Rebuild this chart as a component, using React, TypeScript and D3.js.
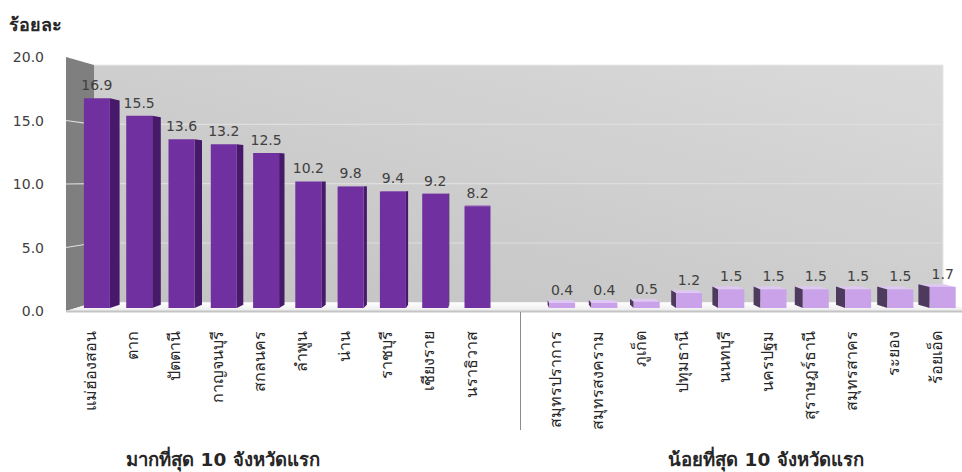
import React from 'react';
import * as d3 from 'd3';

// data
const topNames = ["แม่ฮ่องสอน", "ตาก", "ปัตตานี", "กาญจนบุรี", "สกลนคร", "ลำพูน", "น่าน", "ราชบุรี", "เชียงราย", "นราธิวาส"];
const topValues = [16.9, 15.5, 13.6, 13.2, 12.5, 10.2, 9.8, 9.4, 9.2, 8.2];
const bottomNames = ["สมุทรปราการ", "สมุทรสงคราม", "ภูเก็ต", "ปทุมธานี", "นนทบุรี", "นครปฐม", "สุราษฎร์ธานี", "สมุทรสาคร", "ระยอง", "ร้อยเอ็ด"];
const bottomValues = [0.4, 0.4, 0.5, 1.2, 1.5, 1.5, 1.5, 1.5, 1.5, 1.7];
const yTicks = [0, 5, 10, 15, 20];
const groupLabels = ["มากที่สุด 10 จังหวัดแรก", "น้อยที่สุด 10 จังหวัดแรก"];
const yTitle = "ร้อยละ";

const W = 962;
const H = 472;
const FONT = "Tahoma, 'DejaVu Sans', sans-serif";

// perspective: vanishing point, depth of wall and bars
const VP = [490, 180];
const TW = 0.066;
const TF = 0.023;
const TB = 0.048;
const proj = (x: number, y: number, t: number) => [x + (VP[0] - x) * t, y + (VP[1] - y) * t];
const pts = (arr: number[][]) => arr.map(p => p[0].toFixed(1) + "," + p[1].toFixed(1)).join(" ");

type Bar = { key: string; name: string; value: number; group: number };

export default function App() {
    const GAP = "__gap__";
    const bars: Bar[] = [
        ...topNames.map((n, i) => ({ key: "t" + i, name: n, value: topValues[i], group: 0 })),
        ...bottomNames.map((n, i) => ({ key: "b" + i, name: n, value: bottomValues[i], group: 1 })),
    ];
    const keys = [...bars.slice(0, 10).map(d => d.key), GAP, ...bars.slice(10).map(d => d.key)];

    const x = d3.scaleBand<string>().domain(keys).range([66, 975]).paddingInner(0.385).paddingOuter(0.1925);
    const y = d3.scaleLinear().domain([0, 20]).range([311, 57]);
    const bw = x.bandwidth();
    const [x0, x1] = x.range();
    const y0 = y(0);
    const yMax = y(20);

    const colors = [
        { front: "#7030a0", side: "#47196b", top: "#8a4fb8" },
        { front: "#c9a2ea", side: "#4d3a5c", top: "#dfc8f3" },
    ];

    // walls
    const leftWall = [proj(x0, yMax, 0), proj(x0, yMax, TW), proj(x0, y0, TW), proj(x0, y0, 0)];
    const backWall = [proj(x0, yMax, TW), proj(x1, yMax, TW), proj(x1, y0, TW), proj(x0, y0, TW)];
    const floor = [proj(x0, y0, 0), proj(x1, y0, 0), proj(x1, y0, TW), proj(x0, y0, TW)];
    const sepX = (x(GAP) as number) + bw / 2;

    return (
        <svg width={W} height={H} style={{ position: 'absolute', left: 0, top: 0, background: '#fff' }} fontFamily={FONT}>
            <defs>
                <linearGradient id="backGrad" x1="1" y1="0" x2="0" y2="1">
                    <stop offset="0" stopColor="#dadada" />
                    <stop offset="1" stopColor="#c2c2c2" />
                </linearGradient>
                <linearGradient id="floorGrad" x1="0" y1="0" x2="0" y2="1">
                    <stop offset="0" stopColor="#ffffff" />
                    <stop offset="1" stopColor="#ececec" />
                </linearGradient>
            </defs>

            {/* title */}
            <text x={9} y={31} fontSize={18} fontWeight="bold" fill="#262626">{yTitle}</text>

            {/* walls and floor */}
            <polygon points={pts(backWall)} fill="url(#backGrad)" />
            <polygon points={pts(leftWall)} fill="#7f7f7f" />
            <polygon points={pts(floor)} fill="url(#floorGrad)" />
            <line x1={proj(x0, y0, 0)[0]} y1={y0 + 0.5} x2={proj(x1, y0, 0)[0]} y2={y0 + 0.5} stroke="#c4c4c4" strokeWidth={2} />
            <polyline points={pts([proj(x0, yMax, TW), proj(x1, yMax, TW), proj(x1, y0, TW)])} fill="none" stroke="#e6e6e6" strokeWidth={1} />

            {/* gridlines */}
            {yTicks.filter(v => v > 0 && v < 20).map(v => (
                <polyline key={"g" + v} points={pts([proj(x0, y(v), 0), proj(x0, y(v), TW), proj(x1, y(v), TW)])}
                    fill="none" stroke="#dedede" strokeWidth={1.2} />
            ))}

            {/* y tick labels */}
            {yTicks.map(v => (
                <text key={"t" + v} x={44} y={y(v) + 5} fontSize={14} textAnchor="end" fill="#404040">{v.toFixed(1)}</text>
            ))}

            {/* bars */}
            {bars.map(d => {
                const xl = x(d.key) as number;
                const xr = xl + bw;
                const yt = y(d.value);
                const c = colors[d.group];
                const cx = xl + bw / 2;
                const sx = cx < VP[0] ? xr : xl;
                const side = [proj(sx, yt, TF), proj(sx, yt, TB), proj(sx, y0, TB), proj(sx, y0, TF)];
                const top = [proj(xl, yt, TF), proj(xr, yt, TF), proj(xr, yt, TB), proj(xl, yt, TB)];
                const front = [proj(xl, yt, TF), proj(xr, yt, TF), proj(xr, y0, TF), proj(xl, y0, TF)];
                return (
                    <g key={d.key}>
                        {yt > VP[1] && <polygon points={pts(top)} fill={c.top} />}
                        <polygon points={pts(side)} fill={c.side} />
                        <polygon points={pts(front)} fill={c.front} />
                    </g>
                );
            })}

            {/* value labels */}
            {bars.map(d => {
                const xl = x(d.key) as number;
                const p = proj(xl + bw / 2, y(d.value), TF);
                return (
                    <text key={"v" + d.key} x={p[0]} y={p[1] - 8} fontSize={14} textAnchor="middle" fill="#404040">
                        {d.value.toFixed(1)}
                    </text>
                );
            })}

            {/* category labels */}
            {bars.map(d => {
                const xl = x(d.key) as number;
                const p = proj(xl + bw / 2, y0, TF);
                const lx = p[0] - 1;
                return (
                    <text key={"c" + d.key} transform={`translate(${lx},331) rotate(-90)`} fontSize={16}
                        textAnchor="end" fill="#262626">{d.name}</text>
                );
            })}

            {/* group separator and labels */}
            <line x1={sepX} y1={y0 + 1} x2={sepX} y2={430} stroke="#8c8c8c" strokeWidth={1} />
            <text x={223} y={466} fontSize={18.5} fontWeight="bold" textAnchor="middle" fill="#262626">{groupLabels[0]}</text>
            <text x={766} y={466} fontSize={18.5} fontWeight="bold" textAnchor="middle" fill="#262626">{groupLabels[1]}</text>
        </svg>
    );
}
